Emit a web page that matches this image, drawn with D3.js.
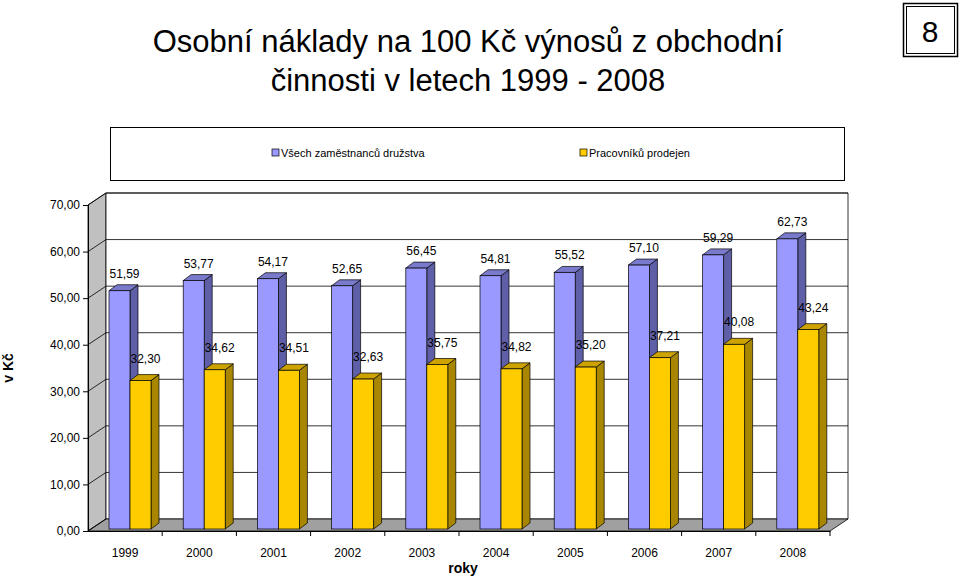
<!DOCTYPE html>
<html><head><meta charset="utf-8">
<script src="https://cdn.jsdelivr.net/npm/d3@7"></script>
<style>body{margin:0;background:#fff}text{font-family:Arial,"Liberation Sans",sans-serif}</style>
</head><body>
<svg id="c" width="960" height="577"></svg>
<script>
const years = ['1999','2000','2001','2002','2003','2004','2005','2006','2007','2008'];
const allStaff = [51.59,53.77,54.17,52.65,56.45,54.81,55.52,57.10,59.29,62.73];
const salesStaff = [32.30,34.62,34.51,32.63,35.75,34.82,35.20,37.21,40.08,43.24];
const yTicks = [0,10,20,30,40,50,60,70];

(function () {
const svg = d3.select('#c');
const pL = 88, pR = 830, pB = 531, pT = 205;
const dx = 18, dy = -12;   // wall depth
const bx = 8, by = -6;     // bar depth
const fmt = v => v.toFixed(2).replace('.', ',');

const y = d3.scaleLinear().domain([0,70]).range([pB, pT]);
const x = d3.scaleBand().domain(years).range([pL, pR]);

// title
svg.append('text').attr('x',468).attr('y',52).attr('text-anchor','middle').attr('font-size',31).text('Osobní náklady na 100 Kč výnosů z obchodní');
svg.append('text').attr('x',468).attr('y',91).attr('text-anchor','middle').attr('font-size',31).text('činnosti v letech 1999 - 2008');
svg.append('rect').attr('x',903.5).attr('y',3.5).attr('width',54).attr('height',53).attr('fill','none').attr('stroke','#000').attr('stroke-width',1.5);
svg.append('rect').attr('x',906.5).attr('y',6.5).attr('width',48).attr('height',47).attr('fill','none').attr('stroke','#000');
svg.append('text').attr('x',930).attr('y',42).attr('text-anchor','middle').attr('font-size',30).attr('font-family','Liberation Serif,serif').text('8');

// legend
svg.append('rect').attr('x',110.5).attr('y',127.5).attr('width',734).attr('height',53).attr('fill','#fff').attr('stroke','#000');
const legend = [['Všech zaměstnanců družstva','#9999FF',272],['Pracovníků prodejen','#FFCC00',580]];
legend.forEach(([t,c,lx]) => {
  svg.append('rect').attr('x',lx).attr('y',149).attr('width',7).attr('height',7).attr('fill',c).attr('stroke','#000').attr('stroke-width',0.7);
  svg.append('text').attr('x',lx+9).attr('y',157).attr('font-size',11).text(t);
});

// walls
const g = svg.append('g');
g.append('path').attr('d',`M${pL},${pB}L${pL+dx},${pB+dy}L${pL+dx},${pT+dy}L${pL},${pT}Z`).attr('fill','#C0C0C0').attr('stroke','#000').attr('stroke-width',0.8);
g.append('path').attr('d',`M${pL+dx},${pB+dy}L${pR+dx},${pB+dy}L${pR+dx},${pT+dy}L${pL+dx},${pT+dy}Z`).attr('fill','#fff').attr('stroke','#000').attr('stroke-width',0.8);
g.append('path').attr('d',`M${pL},${pB}L${pR},${pB}L${pR+dx},${pB+dy}L${pL+dx},${pB+dy}Z`).attr('fill','#A0A0A0').attr('stroke','#000').attr('stroke-width',0.8);
yTicks.forEach(t => {
  if (t>0) g.append('line').attr('x1',pL+dx).attr('x2',pR+dx).attr('y1',y(t)+dy).attr('y2',y(t)+dy).attr('stroke','#000').attr('stroke-width',0.8);
  g.append('line').attr('x1',pL).attr('x2',pL+dx).attr('y1',y(t)).attr('y2',y(t)+dy).attr('stroke','#000').attr('stroke-width',0.8);
});

// axes
const ya = svg.append('g').attr('transform',`translate(${pL},0)`).call(d3.axisLeft(y).tickValues(yTicks).tickFormat(fmt).tickSize(5));
ya.selectAll('text').attr('font-size',12).attr('font-family','Arial,Liberation Sans,sans-serif');
const xa = svg.append('g').attr('transform',`translate(0,${pB})`).call(d3.axisBottom(x).tickSize(0));
xa.selectAll('text').attr('font-size',12).attr('dy','1.9em').attr('font-family','Arial,Liberation Sans,sans-serif');
xa.selectAll('.tk').data(years.slice(1)).enter().append('line').attr('x1',d=>x(d)).attr('x2',d=>x(d)).attr('y1',0).attr('y2',5).attr('stroke','#000');
svg.append('line').attr('x1',pR).attr('x2',pR).attr('y1',pB).attr('y2',pB+5).attr('stroke','#000');

// bars
const bw = 21;
function bar(xx, v, front, side, topc) {
  const y0 = y(0)-2, y1 = y(v);
  svg.append('path').attr('d',`M${xx+bw},${y1}L${xx+bw+bx},${y1+by}L${xx+bw+bx},${y0+by}L${xx+bw},${y0}Z`).attr('fill',side).attr('stroke','#000').attr('stroke-width',0.7);
  svg.append('path').attr('d',`M${xx},${y1}L${xx+bx},${y1+by}L${xx+bw+bx},${y1+by}L${xx+bw},${y1}Z`).attr('fill',topc).attr('stroke','#000').attr('stroke-width',0.7);
  svg.append('rect').attr('x',xx).attr('y',y1).attr('width',bw).attr('height',y0-y1).attr('fill',front).attr('stroke','#000').attr('stroke-width',0.7);
}
years.forEach((yr,i) => {
  const x0 = x(yr) + 21;
  bar(x0, allStaff[i], '#9999FF', '#5F5FA8', '#7A7ACC');
  bar(x0+bw, salesStaff[i], '#FFCC00', '#A88600', '#CCA300');
  svg.append('text').attr('x',x0+bw/2+5).attr('y',y(allStaff[i])-13).attr('text-anchor','middle').attr('font-size',12).text(fmt(allStaff[i]));
  svg.append('text').attr('x',x0+bw*1.5+5).attr('y',y(salesStaff[i])-18).attr('text-anchor','middle').attr('font-size',12).text(fmt(salesStaff[i]));
});

svg.append('text').attr('x',463).attr('y',573).attr('text-anchor','middle').attr('font-size',14).attr('font-weight','bold').text('roky');
svg.append('text').attr('transform','translate(13,368) rotate(-90)').attr('text-anchor','middle').attr('font-size',14).attr('font-weight','bold').text('v Kč');
})();
</script>
</body></html>
